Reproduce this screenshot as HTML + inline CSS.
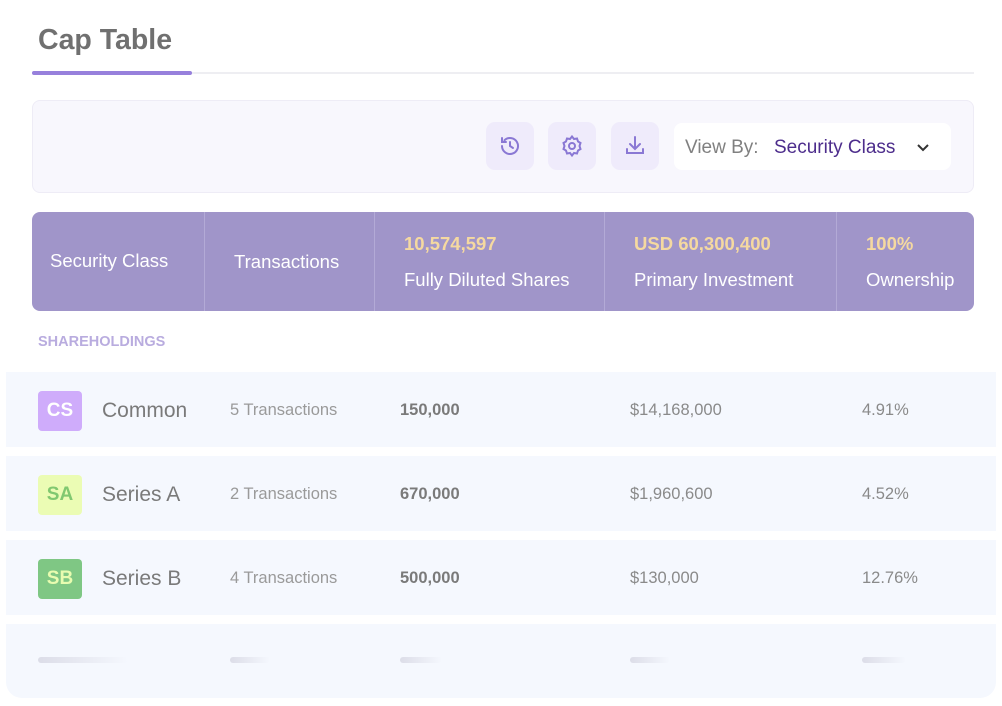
<!DOCTYPE html>
<html><head><meta charset="utf-8"><style>
*{box-sizing:border-box;margin:0;padding:0}
body{width:1002px;height:706px;background:#fff;font-family:"Liberation Sans",sans-serif;position:relative;overflow:hidden}
.a{position:absolute}
.btn{position:absolute;top:122px;width:48px;height:48px;background:#efebfb;border-radius:9px;display:flex;align-items:center;justify-content:center}
.hd{position:absolute;top:212px;height:99px;color:#fff;font-size:18.5px}
.div{position:absolute;top:212px;width:1px;height:99px;background:#b3aad6}
.row{position:absolute;left:6px;width:990px;height:75px;background:#f5f8fe}
.badge{position:absolute;left:38px;width:44px;height:40px;border-radius:4px;font-size:19px;font-weight:bold;display:flex;align-items:center;justify-content:center}
.nm{position:absolute;left:102px;font-size:21px;color:#7a7a7a}
.tx{position:absolute;left:230px;font-size:16.5px;color:#9a9a9a}
.sh{position:absolute;left:400px;font-size:16.5px;color:#7a7a7a;font-weight:bold}
.iv{position:absolute;left:630px;font-size:16.5px;color:#8a8a8a}
.ow{position:absolute;left:862px;font-size:16.5px;color:#8a8a8a}
.sk{position:absolute;top:657px;height:6px;border-radius:3px;background:linear-gradient(90deg,#dcdde8,#f5f8fe)}
</style></head><body>
<div class="a" style="left:38px;top:24px;font-size:28.5px;font-weight:bold;color:#707070">Cap Table</div>
<div class="a" style="left:32px;top:72px;width:942px;height:2px;background:#eeeef2"></div>
<div class="a" style="left:32px;top:71px;width:160px;height:4px;background:#9780dc;border-radius:2px"></div>
<div class="a" style="left:32px;top:100px;width:942px;height:93px;background:#f8f7fd;border:1px solid #eeecf6;border-radius:8px"></div>
<div class="btn" style="left:486px"><svg width="24" height="24" viewBox="0 0 24 24" fill="none" stroke="#8a78d4" stroke-width="2" stroke-linecap="round"><path d="M4 12a8 8 0 1 0 2.5-5.8"/><path d="M4 4v4h4"/><path d="M12 8v4l3 2"/></svg></div>
<div class="btn" style="left:548px"><svg width="24" height="24" viewBox="0 0 24 24" fill="none" stroke="#8a78d4" stroke-width="2"><circle cx="12" cy="12" r="3"/><path d="M12 2.5l2 2.5 3-.5 1 3 2.5 1.5-1 3 1 3-2.5 1.5-1 3-3-.5-2 2.5-2-2.5-3 .5-1-3L3.5 15l1-3-1-3L6 7.5l1-3 3 .5z"/></svg></div>
<div class="btn" style="left:611px"><svg width="24" height="24" viewBox="0 0 24 24" fill="none" stroke="#8a78d4" stroke-width="2" stroke-linecap="round"><path d="M12 3v12M7 10l5 5 5-5M4 15v4h16v-4"/></svg></div>
<div class="a" style="left:674px;top:123px;width:277px;height:47px;background:#fff;border-radius:8px;font-size:19px;line-height:49px;padding-left:11px;color:#808080">View By:<span style="position:absolute;left:100px;color:#4d2d8c">Security Class</span><svg style="position:absolute;left:242px;top:20px" width="14" height="10" viewBox="0 0 14 10" fill="none" stroke="#333" stroke-width="2"><path d="M2 2l5 5 5-5"/></svg></div>
<div class="a" style="left:32px;top:212px;width:942px;height:99px;background:#a095c9;border-radius:8px"></div>
<div class="div" style="left:204px"></div>
<div class="div" style="left:374px"></div>
<div class="div" style="left:604px"></div>
<div class="div" style="left:836px"></div>
<div class="hd" style="left:50px;top:250px">Security Class</div>
<div class="hd" style="left:234px;top:251px">Transactions</div>
<div class="hd" style="left:404px;top:233px;color:#f5d9a0;font-weight:600">10,574,597</div>
<div class="hd" style="left:404px;top:269px">Fully Diluted Shares</div>
<div class="hd" style="left:634px;top:233px;color:#f5d9a0;font-weight:600">USD 60,300,400</div>
<div class="hd" style="left:634px;top:269px">Primary Investment</div>
<div class="hd" style="left:866px;top:233px;color:#f5d9a0;font-weight:600">100%</div>
<div class="hd" style="left:866px;top:269px">Ownership</div>
<div class="a" style="left:38px;top:334px;font-size:14.5px;font-weight:bold;color:#b9acdf">SHAREHOLDINGS</div>

<div class="row" style="top:372px"></div>
<div class="badge" style="top:391px;background:#cfacfb;color:#fff">CS</div>
<div class="nm" style="top:399px">Common</div>
<div class="tx" style="top:401px">5 Transactions</div>
<div class="sh" style="top:401px">150,000</div>
<div class="iv" style="top:401px">$14,168,000</div>
<div class="ow" style="top:401px">4.91%</div>

<div class="row" style="top:456px"></div>
<div class="badge" style="top:475px;background:#ebfcb4;color:#80c870">SA</div>
<div class="nm" style="top:483px">Series A</div>
<div class="tx" style="top:485px">2 Transactions</div>
<div class="sh" style="top:485px">670,000</div>
<div class="iv" style="top:485px">$1,960,600</div>
<div class="ow" style="top:485px">4.52%</div>

<div class="row" style="top:540px"></div>
<div class="badge" style="top:559px;background:#7fc784;color:#e8fcb0">SB</div>
<div class="nm" style="top:567px">Series B</div>
<div class="tx" style="top:569px">4 Transactions</div>
<div class="sh" style="top:569px">500,000</div>
<div class="iv" style="top:569px">$130,000</div>
<div class="ow" style="top:569px">12.76%</div>

<div class="row" style="top:624px;height:74px;border-radius:0 0 16px 16px"></div>
<div class="sk" style="left:38px;width:90px"></div>
<div class="sk" style="left:230px;width:40px"></div>
<div class="sk" style="left:400px;width:42px"></div>
<div class="sk" style="left:630px;width:40px"></div>
<div class="sk" style="left:862px;width:44px"></div>
</body></html>
